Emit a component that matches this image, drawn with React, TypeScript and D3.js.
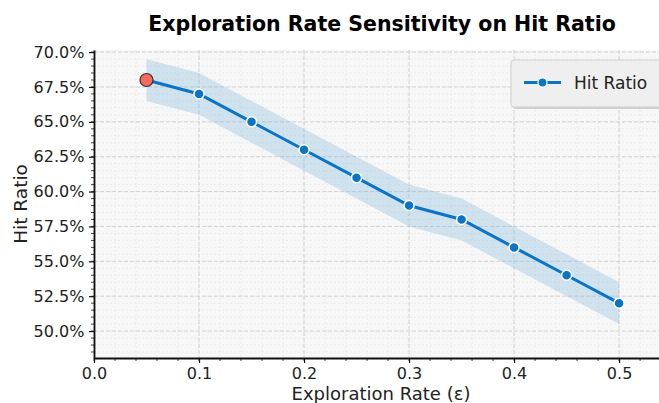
import { useRef, useEffect } from 'react';
import * as d3 from 'd3';

const epsilons = [0.05, 0.1, 0.15, 0.2, 0.25, 0.3, 0.35, 0.4, 0.45, 0.5];
const hitRatio = [68, 67, 65, 63, 61, 59, 58, 56, 54, 52];
const bandHalf = [1.5, 1.5, 1.5, 1.5, 1.5, 1.5, 1.5, 1.5, 1.5, 1.5];
const xTicks = [0, 0.1, 0.2, 0.3, 0.4, 0.5];
const yTicks = [50, 52.5, 55, 57.5, 60, 62.5, 65, 67.5, 70];

const W = 659;
const H = 403;
const FONT = 'DejaVu Sans, sans-serif';

export default function App() {
  const svgRef = useRef<SVGSVGElement>(null);

  useEffect(() => {
    if (!svgRef.current) return;
    const svg = d3.select(svgRef.current);
    svg.selectAll('*').remove();

    const left = 94, right = 659, top = 50, bottom = 358;

    const x = d3.scaleLinear().domain([0, 0.538]).range([left, right]);
    const y = d3.scaleLinear().domain([48.07, 70.15]).range([bottom, top]);

    svg.append('rect').attr('width', W).attr('height', H).attr('fill', '#ffffff');

    // plot background
    svg.append('rect')
      .attr('x', left).attr('y', top)
      .attr('width', right - left).attr('height', bottom - top)
      .attr('fill', '#f7f7f7');

    const g = svg.append('g');

    // minor grid
    const xMinor = d3.range(0, 0.54, 0.02);
    const yMinor = d3.range(48.5, 70.1, 0.5);
    g.selectAll('.xminor').data(xMinor).join('line')
      .attr('x1', d => x(d)).attr('x2', d => x(d))
      .attr('y1', top).attr('y2', bottom)
      .attr('stroke', '#e2e2e2').attr('stroke-width', 0.6).attr('stroke-dasharray', '2,2');
    g.selectAll('.yminor').data(yMinor).join('line')
      .attr('x1', left).attr('x2', right)
      .attr('y1', d => y(d)).attr('y2', d => y(d))
      .attr('stroke', '#e2e2e2').attr('stroke-width', 0.6).attr('stroke-dasharray', '2,2');

    // major grid
    g.selectAll('.xmajor').data(xTicks).join('line')
      .attr('x1', d => x(d)).attr('x2', d => x(d))
      .attr('y1', top).attr('y2', bottom)
      .attr('stroke', '#cccccc').attr('stroke-width', 0.8).attr('stroke-dasharray', '4,2');
    g.selectAll('.ymajor').data(yTicks).join('line')
      .attr('x1', left).attr('x2', right)
      .attr('y1', d => y(d)).attr('y2', d => y(d))
      .attr('stroke', '#cccccc').attr('stroke-width', 0.8).attr('stroke-dasharray', '4,2');

    // confidence band
    const area = d3.area<number>()
      .x((_, i) => x(epsilons[i]))
      .y0((d, i) => y(d - bandHalf[i]))
      .y1((d, i) => y(d + bandHalf[i]));
    svg.append('path')
      .datum(hitRatio)
      .attr('d', area)
      .attr('fill', '#7bb3df')
      .attr('fill-opacity', 0.3)
      .attr('stroke', 'none');

    // line
    const line = d3.line<number>()
      .x((_, i) => x(epsilons[i]))
      .y(d => y(d));
    svg.append('path')
      .datum(hitRatio)
      .attr('d', line)
      .attr('fill', 'none')
      .attr('stroke', '#0a75c6')
      .attr('stroke-width', 3);

    // markers
    svg.selectAll('.pt').data(hitRatio.slice(1)).join('circle')
      .attr('cx', (_, i) => x(epsilons[i + 1]))
      .attr('cy', d => y(d))
      .attr('r', 5)
      .attr('fill', '#0a75c6')
      .attr('stroke', '#ffffff')
      .attr('stroke-width', 1.5);

    // best point highlight
    svg.append('circle')
      .attr('cx', x(epsilons[0]))
      .attr('cy', y(hitRatio[0]))
      .attr('r', 6.5)
      .attr('fill', '#f96a5c')
      .attr('stroke', '#333333')
      .attr('stroke-width', 1.2);

    // axes
    const xAxis = d3.axisBottom(x).tickValues(xTicks).tickFormat(d3.format('.1f')).tickSize(5).tickSizeOuter(0);
    const xg = svg.append('g').attr('transform', `translate(0,${bottom})`).call(xAxis);
    const yAxis = d3.axisLeft(y).tickValues(yTicks).tickFormat(d => `${(+d).toFixed(1)}%`).tickSize(5).tickSizeOuter(0);
    const yg = svg.append('g').attr('transform', `translate(${left},0)`).call(yAxis);

    [xg, yg].forEach(a => {
      a.select('.domain').attr('stroke', '#111').attr('stroke-width', 1.8);
      a.selectAll('.tick line').attr('stroke', '#111').attr('stroke-width', 1.2);
      a.selectAll('.tick text').attr('font-family', FONT).attr('font-size', 16).attr('fill', '#222');
    });
    xg.selectAll('.tick text').attr('y', 21).attr('dy', 0);
    yg.selectAll('.tick text').attr('dx', '-0.1em');

    // minor ticks
    svg.append('g').selectAll('line').data(xMinor).join('line')
      .attr('x1', d => x(d)).attr('x2', d => x(d))
      .attr('y1', bottom).attr('y2', bottom + 3)
      .attr('stroke', '#111').attr('stroke-width', 0.8);
    svg.append('g').selectAll('line').data(yMinor).join('line')
      .attr('x1', left - 3).attr('x2', left)
      .attr('y1', d => y(d)).attr('y2', d => y(d))
      .attr('stroke', '#111').attr('stroke-width', 0.8);

    // legend
    const lg = svg.append('g').attr('transform', 'translate(511,60)');
    lg.append('rect').attr('x', 2).attr('y', 2).attr('width', 160).attr('height', 47)
      .attr('rx', 3).attr('fill', '#b8b8b8').attr('opacity', 0.6);
    lg.append('rect').attr('width', 160).attr('height', 47).attr('rx', 3)
      .attr('fill', '#efefef').attr('stroke', '#d0d0d0').attr('stroke-width', 1);
    lg.append('line').attr('x1', 13).attr('x2', 50).attr('y1', 22.5).attr('y2', 22.5)
      .attr('stroke', '#0a75c6').attr('stroke-width', 3);
    lg.append('circle').attr('cx', 31.5).attr('cy', 22.5).attr('r', 4.5)
      .attr('fill', '#0a75c6').attr('stroke', '#ffffff').attr('stroke-width', 1.2);
    lg.append('text').attr('x', 63).attr('y', 29).attr('font-family', FONT)
      .attr('font-size', 17).attr('fill', '#222').text('Hit Ratio');

    // titles
    svg.append('text').attr('x', 382).attr('y', 31).attr('text-anchor', 'middle')
      .attr('font-family', FONT).attr('font-size', 20.5).attr('font-weight', 'bold')
      .attr('fill', '#000').text('Exploration Rate Sensitivity on Hit Ratio');
    svg.append('text').attr('x', 381).attr('y', 400).attr('text-anchor', 'middle')
      .attr('font-family', FONT).attr('font-size', 18).attr('fill', '#222')
      .text('Exploration Rate (ε)');
    svg.append('text').attr('transform', `translate(27,${(top + bottom) / 2}) rotate(-90)`)
      .attr('text-anchor', 'middle')
      .attr('font-family', FONT).attr('font-size', 18.5).attr('fill', '#222')
      .text('Hit Ratio');
  }, []);

  return (
    <svg ref={svgRef} width={W} height={H} style={{ display: 'block', position: 'absolute', left: 0, top: 0 }} />
  );
}
